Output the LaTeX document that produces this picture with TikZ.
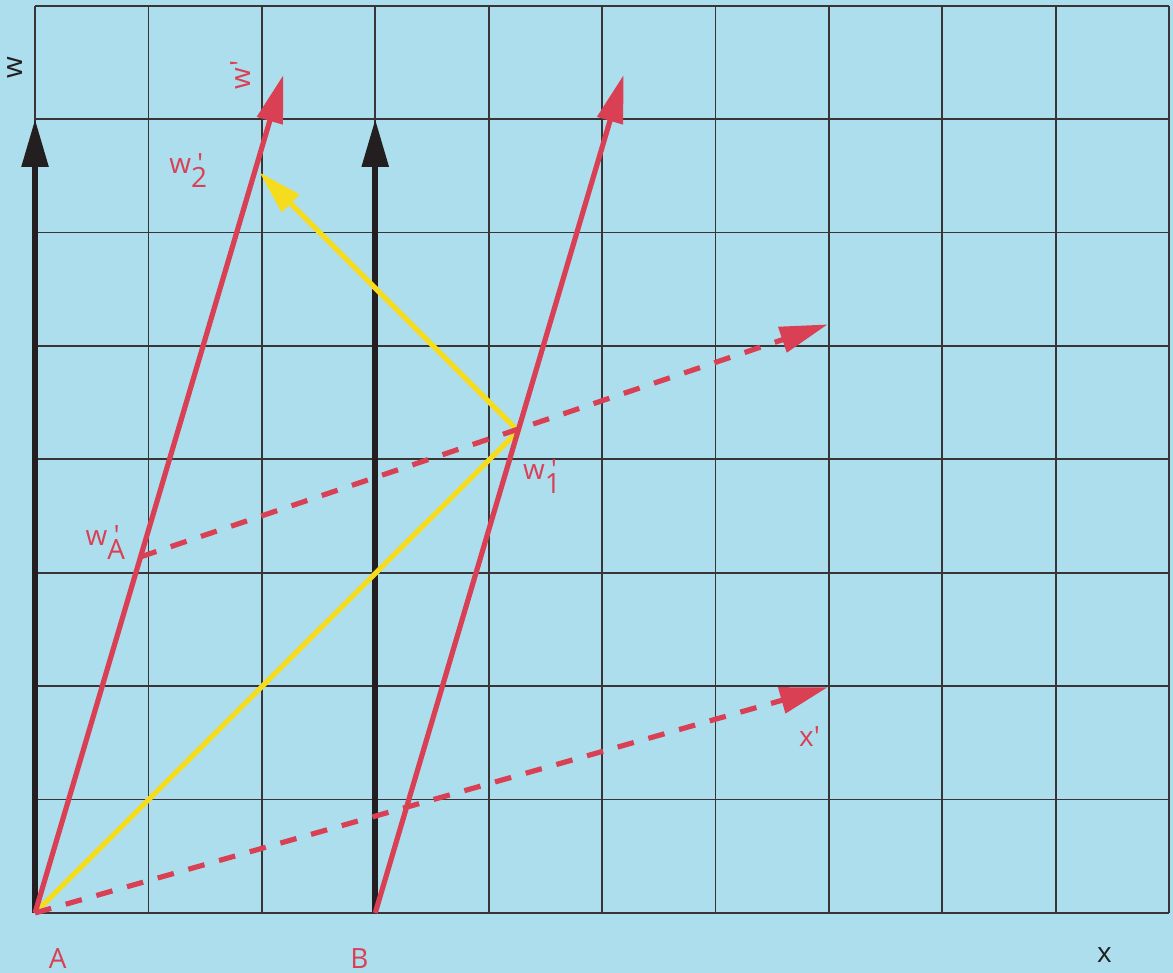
\documentclass[tikz,border=0pt]{standalone}
\usepackage{fontspec}
\setmainfont{Open Sans}[Ligatures=TeXOff]
\usetikzlibrary{arrows.meta}
\definecolor{Sky}{RGB}{172,222,238}
\definecolor{Rose}{RGB}{218,64,84}
\definecolor{Sun}{RGB}{246,220,30}
\definecolor{Ink}{RGB}{35,31,32}
\newcommand{\wsub}[1]{w\makebox[0pt][l]{\kern.22em'}\raisebox{-.5em}{#1}}

\begin{document}
\begin{tikzpicture}[
 g/.style={draw=Ink!90,line width=.45pt},
 wl/.style={-{Triangle[length=12pt,width=6.5pt]},line width=1.5pt,Ink},
 r/.style={-{Triangle[length=12pt,width=6.5pt]},line width=1.3pt,Rose},
 rd/.style={r,dash pattern=on 4.2pt off 3.8pt},
 ray/.style={line width=1.3pt,Sun},
 lab/.style={font=\fontsize{7}{8}\selectfont,text=Rose,inner sep=0pt}]
\fill[Sky] (-0.309,-0.529) rectangle (10.035,8.051);
\useasboundingbox (-0.309,-0.529) rectangle (10.035,8.051);
% grid
\draw[g] (0,0) grid (10,8);
% events
\coordinate (A) at (0,0);
\coordinate (B) at (3,0);
\coordinate (At) at (0,7);
\coordinate (Bt) at (3,7);
\coordinate (Ap) at (2.19,7.39);
\coordinate (Bp) at (5.19,7.39);
\coordinate (E1) at (4.26,4.25);
\coordinate (E2) at (1.98,6.53);
\coordinate (EA) at (0.93,3.14);
\coordinate (Xp) at (6.99,1.99);
\coordinate (Xq) at (6.99,5.19);
% rest frame
\draw[wl] (A)--(At);\draw[wl] (B)--(Bt);
% light
\draw[ray,-{Triangle[length=11pt,width=6pt]}] (A)--(E1)--(E2);
% moving frame
\draw[r] (A)--(Ap);\draw[r] (B)--(Bp);
\draw[rd] (A)--(Xp);\draw[rd] (EA)--(Xq);
% labels
\node[lab,text=Ink,rotate=90] (w) at (-0.18,7.45) {w};
\node[lab,rotate=90] (wp) at (1.81,7.39) {w'};
\node[lab] (w2) at (1.35,6.55) {\wsub{2}};
\node[lab] (w1) at (4.47,3.85) {\wsub{1}};
\node[lab] (wA) at (0.62,3.27) {\wsub{A}};
\node[lab] (xp) at (6.83,1.56) {x'};
\node[lab] (a) at (0.20,-0.40) {A};
\node[lab] (b) at (2.86,-0.40) {B};
\node[lab,text=Ink] (x) at (9.43,-0.37) {x};
\end{tikzpicture}
\end{document}
